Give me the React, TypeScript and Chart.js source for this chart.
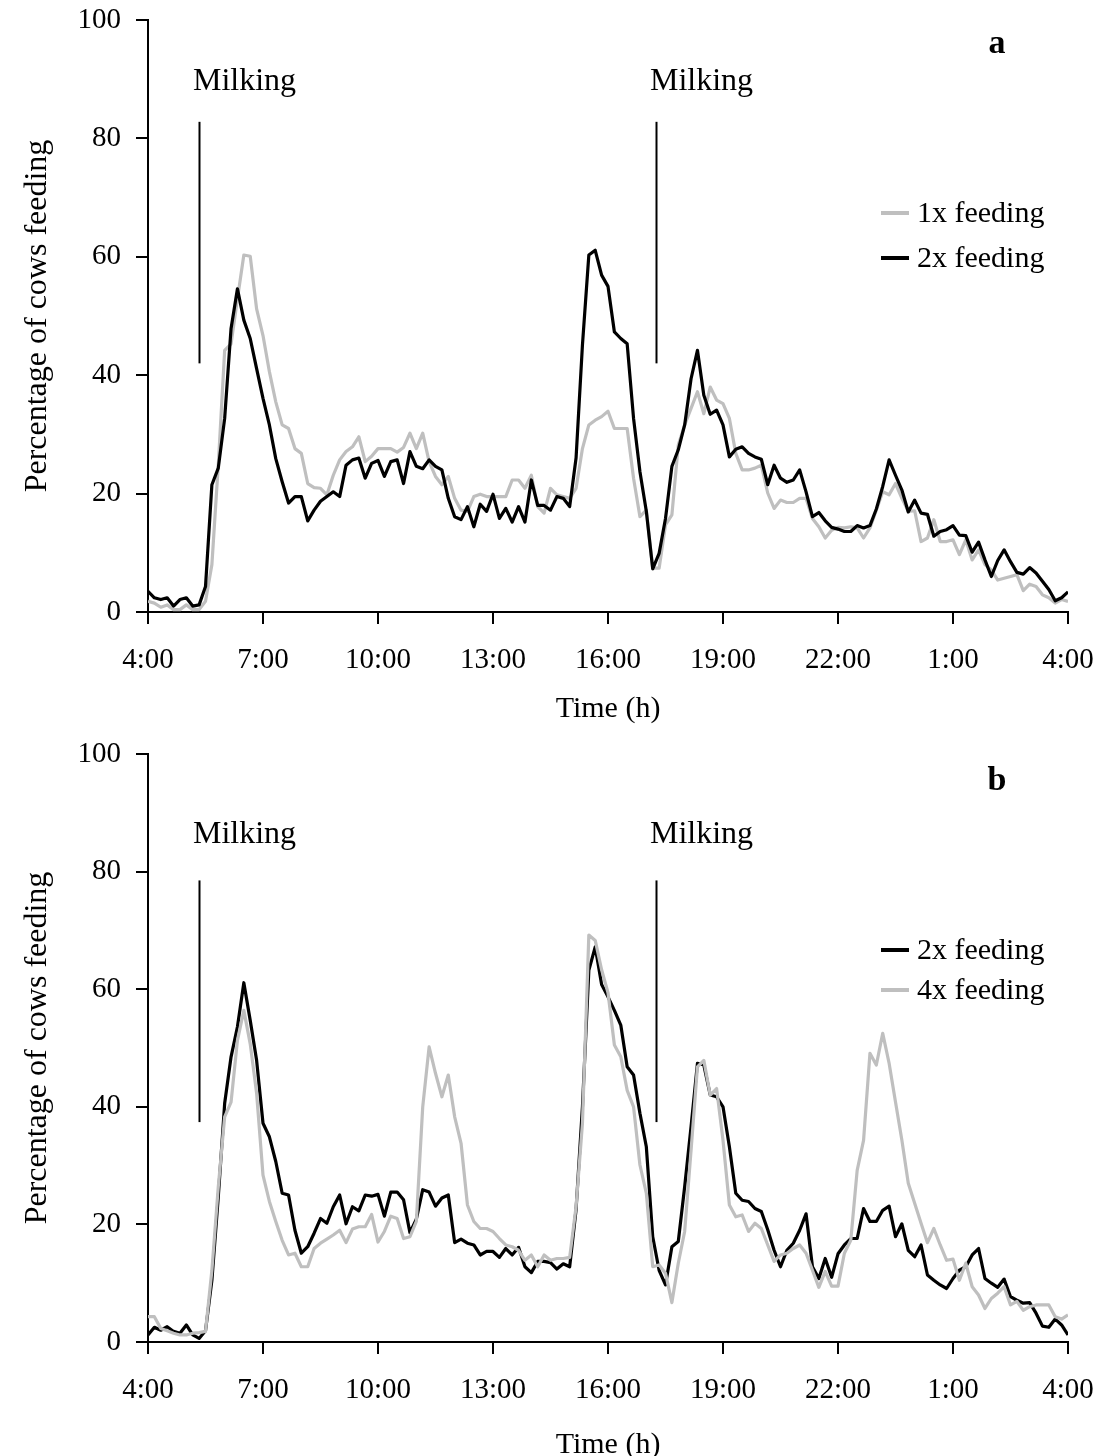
import React, { useEffect, useRef } from "react";
import { Chart, registerables } from "chart.js";

Chart.register(...registerables);

// ---------- data (10-minute steps from 4:00 to 4:00 next day) ----------
const STEP_MINUTES = 10;
const xTickLabels = ["4:00", "7:00", "10:00", "13:00", "16:00", "19:00", "22:00", "1:00", "4:00"];
const yTicks = [0, 20, 40, 60, 80, 100];

// Panel a
const panelA_1x = [
  1.8, 1.5, 0.8, 1.2, 0.4, 0.4, 1.2, 0.4, 0.4, 1.8,
  8.0, 24.8, 44.2, 45.3, 52.9, 60.3, 60.1, 51.2, 46.7, 40.6,
  35.5, 31.6, 31.0, 27.6, 26.8, 21.7, 21.0, 20.9, 19.8, 23.1,
  25.7, 27.1, 27.9, 29.6, 25.4, 26.3, 27.6, 27.6, 27.6, 27.0,
  27.8, 30.2, 27.6, 30.2, 25.4, 22.9, 21.5, 22.9, 19.2, 17.2,
  17.0, 19.5, 19.9, 19.5, 19.5, 19.5, 19.5, 22.3, 22.3, 20.9,
  23.1, 17.8, 16.7, 20.9, 19.8, 19.5, 19.2, 20.9, 27.6, 31.6,
  32.4, 33.0, 33.9, 31.0, 31.0, 31.0, 22.6, 16.1, 17.2, 7.4,
  7.4, 14.7, 16.4, 28.2, 31.6, 34.4, 37.2, 33.5, 38.0, 35.8,
  35.2, 32.7, 26.8, 24.0, 24.0, 24.3, 24.8, 20.1, 17.5, 18.9,
  18.5, 18.5, 19.2, 19.2, 15.8, 14.4, 12.5, 13.8, 14.3, 14.2,
  14.4, 14.2, 12.5, 14.2, 17.2, 20.3, 19.8, 21.7, 19.2, 17.0,
  17.1, 11.9, 12.5, 15.6, 11.9, 11.9, 12.2, 9.7, 12.2, 8.8,
  10.5, 8.0, 7.1, 5.4, 5.7, 6.0, 6.3, 3.6, 4.7, 4.3,
  2.9, 2.4, 1.5, 2.1, 1.8,
];
const panelA_2x = [
  3.5, 2.4, 2.1, 2.4, 1.0, 2.1, 2.4, 1.0, 1.2, 4.3,
  21.5, 24.3, 32.7, 47.9, 54.6, 49.3, 46.2, 41.1, 36.1, 31.6,
  25.9, 22.0, 18.4, 19.5, 19.5, 15.4, 17.2, 18.7, 19.5, 20.3,
  19.5, 24.8, 25.7, 26.0, 22.6, 25.1, 25.6, 22.9, 25.4, 25.7,
  21.7, 27.1, 24.6, 24.2, 25.7, 24.6, 24.0, 19.2, 16.1, 15.6,
  17.8, 14.4, 18.2, 17.0, 19.9, 15.8, 17.5, 15.2, 17.8, 15.2,
  22.3, 18.0, 18.0, 17.2, 19.5, 19.2, 17.8, 26.0, 45.1, 60.3,
  61.1, 56.9, 55.0, 47.3, 46.2, 45.3, 32.7, 23.7, 17.0, 7.3,
  9.9, 15.8, 24.6, 27.4, 31.6, 39.4, 44.2, 36.6, 33.4, 34.1,
  31.6, 26.2, 27.5, 27.9, 26.8, 26.2, 25.8, 21.5, 24.8, 22.6,
  21.9, 22.3, 24.0, 20.3, 16.1, 16.8, 15.4, 14.3, 14.0, 13.6,
  13.6, 14.6, 14.2, 14.6, 17.4, 21.2, 25.7, 23.1, 20.6, 16.9,
  18.9, 16.7, 16.5, 12.8, 13.6, 13.9, 14.6, 13.0, 12.9, 10.1,
  11.8, 8.8, 6.0, 8.7, 10.5, 8.5, 6.7, 6.4, 7.5, 6.6,
  5.2, 3.8, 1.9, 2.4, 3.4,
];

// Panel b
const panelB_2x = [
  1.2, 2.5, 2.0, 2.6, 1.8, 1.5, 2.9, 1.2, 0.6, 1.9,
  10.5, 24.7, 40.6, 48.5, 53.6, 61.1, 54.7, 47.9, 37.2, 34.9,
  30.7, 25.3, 25.0, 19.0, 15.1, 16.2, 18.5, 21.0, 20.2, 23.0,
  25.0, 20.1, 23.0, 22.3, 25.0, 24.8, 25.1, 21.4, 25.5, 25.5,
  24.2, 18.6, 20.9, 25.9, 25.5, 23.1, 24.5, 25.0, 16.9, 17.5,
  16.8, 16.5, 14.8, 15.4, 15.4, 14.4, 15.9, 14.8, 16.1, 12.8,
  11.8, 13.7, 13.7, 13.5, 12.4, 13.3, 12.8, 22.5, 40.0, 63.2,
  67.2, 60.8, 58.7, 56.4, 53.9, 46.8, 45.4, 38.9, 33.2, 17.9,
  12.2, 9.7, 16.2, 17.1, 26.4, 36.6, 47.4, 47.1, 42.0, 41.7,
  40.0, 33.2, 25.3, 24.1, 23.9, 22.7, 22.2, 19.1, 15.6, 12.8,
  15.6, 16.8, 19.0, 21.8, 12.8, 10.8, 14.2, 11.0, 15.0, 16.5,
  17.6, 17.6, 22.7, 20.5, 20.5, 22.4, 23.1, 17.9, 20.1, 15.6,
  14.5, 16.5, 11.4, 10.5, 9.7, 9.1, 10.8, 12.2, 12.8, 14.8,
  15.9, 10.8, 10.0, 9.3, 10.7, 7.7, 7.1, 6.6, 6.7, 4.9,
  2.7, 2.5, 3.9, 2.9, 1.2,
];
const panelB_4x = [
  4.3, 4.3, 2.3, 1.9, 1.5, 1.2, 1.2, 1.5, 1.6, 1.8,
  12.2, 26.4, 38.3, 40.8, 51.3, 56.4, 50.7, 42.3, 28.4, 23.9,
  20.5, 17.3, 14.8, 15.1, 12.8, 12.8, 15.9, 16.8, 17.5, 18.2,
  19.0, 16.9, 19.2, 19.6, 19.6, 21.7, 17.0, 18.8, 21.4, 21.0,
  17.6, 17.9, 20.5, 40.0, 50.2, 45.7, 41.7, 45.4, 38.3, 33.8,
  23.3, 20.5, 19.3, 19.3, 18.8, 17.6, 16.5, 16.2, 15.6, 13.9,
  14.8, 12.8, 14.8, 13.9, 14.2, 14.2, 14.4, 23.0, 37.2, 69.2,
  68.3, 63.3, 59.4, 50.5, 48.5, 42.8, 40.0, 30.1, 25.3, 12.8,
  13.1, 11.7, 6.7, 13.4, 18.8, 32.6, 46.8, 47.9, 42.0, 43.1,
  34.3, 23.3, 21.3, 21.6, 18.8, 20.2, 19.3, 16.5, 13.7, 14.8,
  15.1, 15.9, 16.5, 15.1, 12.2, 9.3, 12.0, 9.5, 9.5, 15.1,
  17.3, 29.2, 34.3, 49.1, 47.1, 52.5, 47.4, 40.8, 34.3, 27.0,
  23.6, 20.2, 16.9, 19.3, 16.5, 13.9, 14.1, 10.5, 13.4, 9.4,
  8.0, 5.7, 7.4, 8.3, 9.4, 6.3, 6.9, 5.4, 6.0, 6.3,
  6.3, 6.3, 4.3, 3.9, 4.6,
];

// Milking events (minutes after 4:00)
const milkingTimes = [80, 795];

// ---------- styles ----------
const FONT = '"Liberation Serif", "Times New Roman", serif';
const GRAY = "#bfbfbf";
const BLACK = "#000000";
const W = 1102;
const H = 728;

type Series = { label: string; values: number[]; color: string; order: number };
type PanelCfg = {
  top: number;
  padTop: number;
  areaHeight: number;
  letter: string;
  letterY: number;
  series: Series[];
  legendYs: number[];
  milkTop: number;
  milkBottom: number;
  milkTextY: number;
  xTitlePadBottom: number;
};

const panels: PanelCfg[] = [
  {
    top: 0,
    padTop: 20,
    areaHeight: 592,
    letter: "a",
    letterY: 44,
    series: [
      { label: "1x feeding", values: panelA_1x, color: GRAY, order: 1 },
      { label: "2x feeding", values: panelA_2x, color: BLACK, order: 0 },
    ],
    legendYs: [213, 258],
    milkTop: 82.8,
    milkBottom: 42,
    milkTextY: 88.2,
    xTitlePadBottom: 1,
  },
  {
    top: H,
    padTop: 26,
    areaHeight: 588,
    letter: "b",
    letterY: 53,
    series: [
      { label: "2x feeding", values: panelB_2x, color: BLACK, order: 1 },
      { label: "4x feeding", values: panelB_4x, color: GRAY, order: 0 },
    ],
    legendYs: [222, 262],
    milkTop: 78.5,
    milkBottom: 37.4,
    milkTextY: 84.9,
    xTitlePadBottom: -7,
  },
];

function Panel({ cfg }: { cfg: PanelCfg }) {
  const ref = useRef<HTMLCanvasElement | null>(null);

  useEffect(() => {
    const canvas = ref.current;
    if (!canvas) return;
    const xAxisHeight = H - cfg.padTop - cfg.areaHeight;

    const annotations = {
      id: "annotations",
      afterDatasetsDraw(chart: any) {
        const { ctx, scales } = chart;
        const x = scales.x;
        const y = scales.y;
        ctx.save();
        // milking lines + labels
        ctx.strokeStyle = "#000";
        ctx.lineWidth = 2;
        ctx.fillStyle = "#000";
        ctx.font = `32px ${FONT}`;
        ctx.textAlign = "center";
        ctx.textBaseline = "alphabetic";
        milkingTimes.forEach((t) => {
          const px = Math.round(x.getPixelForValue(t)) + 0.5;
          ctx.beginPath();
          ctx.moveTo(px, y.getPixelForValue(cfg.milkTop));
          ctx.lineTo(px, y.getPixelForValue(cfg.milkBottom));
          ctx.stroke();
          ctx.fillText("Milking", px + 45, y.getPixelForValue(cfg.milkTextY));
        });
        // panel letter
        ctx.font = `bold 34px ${FONT}`;
        ctx.textBaseline = "middle";
        ctx.fillText(cfg.letter, 997, cfg.letterY);
        // legend
        ctx.font = `30px ${FONT}`;
        ctx.textAlign = "left";
        cfg.series.forEach((s, i) => {
          const ly = cfg.legendYs[i];
          ctx.strokeStyle = s.color;
          ctx.lineWidth = 4;
          ctx.beginPath();
          ctx.moveTo(881, ly);
          ctx.lineTo(909, ly);
          ctx.stroke();
          ctx.fillStyle = "#000";
          ctx.fillText(s.label, 917, ly + 1);
        });
        ctx.restore();
      },
    };

    const chart = new Chart(canvas, {
      type: "line",
      data: {
        datasets: cfg.series.map((s) => ({
          label: s.label,
          data: s.values.map((v, i) => ({ x: i * STEP_MINUTES, y: v })),
          borderColor: s.color,
          backgroundColor: s.color,
          borderWidth: 3.2,
          pointRadius: 0,
          tension: 0,
          fill: false,
          order: s.order,
          borderJoinStyle: "round" as const,
        })),
      },
      options: {
        responsive: false,
        animation: false,
        devicePixelRatio: 1,
        layout: { padding: { top: cfg.padTop, right: 34, left: 0, bottom: 0 } },
        plugins: { legend: { display: false }, tooltip: { enabled: false } },
        scales: {
          x: {
            type: "linear",
            min: 0,
            max: 1440,
            afterBuildTicks: (scale: any) => {
              scale.ticks = xTickLabels.map((_, i) => ({ value: i * 180 }));
            },
            afterFit: (scale: any) => {
              scale.height = xAxisHeight;
              scale.paddingLeft = 0;
              scale.paddingRight = 0;
            },
            ticks: {
              autoSkip: false,
              maxRotation: 0,
              padding: 19,
              color: "#000",
              font: { family: FONT, size: 29 },
              callback: (_v: any, i: number) => xTickLabels[i],
            },
            grid: {
              drawOnChartArea: false,
              drawTicks: true,
              tickLength: 12,
              color: "#000",
              lineWidth: 2,
            },
            border: { display: true, color: "#000", width: 2 },
            title: {
              display: true,
              text: "Time (h)",
              color: "#000",
              font: { family: FONT, size: 30 },
              padding: { top: 0, bottom: cfg.xTitlePadBottom },
            },
          },
          y: {
            type: "linear",
            min: 0,
            max: 100,
            afterBuildTicks: (scale: any) => {
              scale.ticks = yTicks.map((v) => ({ value: v }));
            },
            afterFit: (scale: any) => {
              scale.width = 148;
              scale.paddingTop = 0;
              scale.paddingBottom = 0;
            },
            ticks: {
              padding: 15,
              color: "#000",
              font: { family: FONT, size: 29 },
            },
            grid: {
              drawOnChartArea: false,
              drawTicks: true,
              tickLength: 12,
              color: "#000",
              lineWidth: 2,
            },
            border: { display: true, color: "#000", width: 2 },
            title: {
              display: true,
              text: "Percentage of cows feeding",
              color: "#000",
              font: { family: FONT, size: 32 },
              padding: { top: 18, bottom: 0 },
            },
          },
        },
      },
      plugins: [annotations],
    });
    return () => chart.destroy();
  }, [cfg]);

  return (
    <canvas
      ref={ref}
      width={W}
      height={H}
      style={{ position: "absolute", left: 0, top: cfg.top, width: W, height: H, display: "block" }}
    />
  );
}

export default function App() {
  return (
    <div style={{ position: "absolute", left: 0, top: 0, width: W, height: 2 * H, background: "#fff" }}>
      {panels.map((p) => (
        <Panel key={p.letter} cfg={p} />
      ))}
    </div>
  );
}
